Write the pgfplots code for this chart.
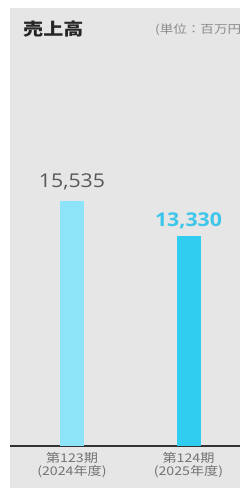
\documentclass[border=0pt]{standalone}
\usepackage{fontspec}
\usepackage{pgfplots}
\pgfplotsset{compat=1.18}
\newfontfamily\cjk[FakeStretch=1.18]{Noto Sans CJK JP}
\newfontfamily\numf[FakeStretch=1.12]{Open Sans}
\definecolor{bg}{HTML}{E6E6E6}
\definecolor{barA}{HTML}{8DE3F8}
\definecolor{barB}{HTML}{30CDF0}
\definecolor{valB}{HTML}{3EC6EA}
\begin{document}
\begin{tikzpicture}[x=1pt,y=1pt]
\useasboundingbox (0,0) rectangle (240,497);
\fill[white] (0,0) rectangle (240,497);
\fill[bg] (10,9) rectangle (240,489);
\node[anchor=west, inner sep=0, text=black!85] at (23,467.5) {\cjk\bfseries\fontsize{17}{17}\selectfont 売上高};
\node[anchor=west, inner sep=0, text=black!45] at (155,467) {\cjk\fontsize{11.5}{12}\selectfont (単位：百万円)};
\begin{axis}[at={(10pt,51pt)}, anchor=south west, scale only axis,
  width=230pt, height=245pt,
  xmin=-0.532, xmax=1.442, ymin=0, ymax=15535,
  axis y line=none, ytick=\empty,
  axis x line*=bottom,
  x axis line style={-, draw=black!80, line width=1.6pt},
  xtick={0,1},
  xticklabels={{第123期\\(2024年度)},{第124期\\(2025年度)}},
  xticklabel style={align=center, yshift=-3pt, font=\cjk\fontsize{12}{13}\selectfont, text=black!55},
  major tick length=0pt,
  ybar, bar width=24pt, clip=false,
  /pgf/number format/.cd, 1000 sep={,}, assume math mode=true]
\addplot[fill=barA, draw=none, bar shift=0pt, nodes near coords,
  every node near coord/.append style={anchor=base, yshift=13pt, font=\numf\fontsize{19}{19}\selectfont, text=black!65}]
  coordinates {(0,15535)};
\addplot[fill=barB, draw=none, bar shift=0pt, nodes near coords,
  every node near coord/.append style={anchor=base, yshift=9.5pt, font=\numf\bfseries\fontsize{19}{19}\selectfont, text=valB}]
  coordinates {(1,13330)};
\end{axis}
\end{tikzpicture}
\end{document}
